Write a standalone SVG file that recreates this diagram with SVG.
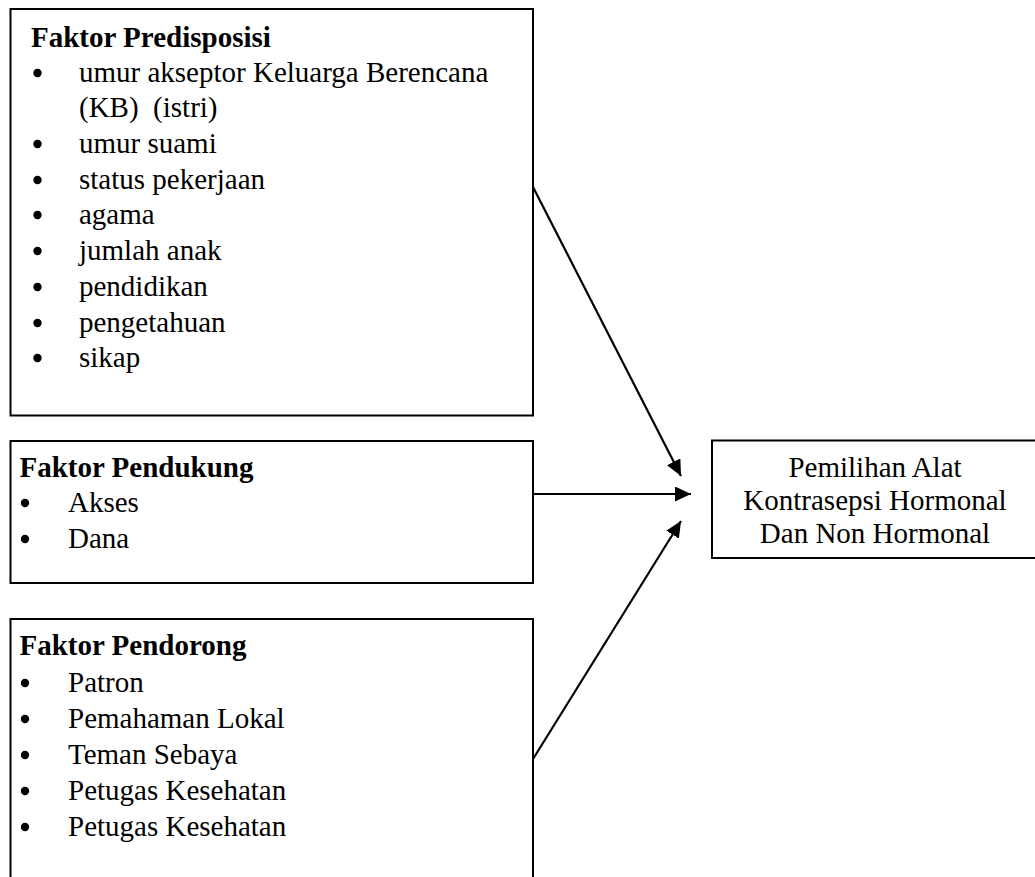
<svg xmlns="http://www.w3.org/2000/svg" width="1035" height="877" viewBox="0 0 1035 877">
<style>
.box{fill:#fff;stroke:#000;stroke-width:2}
.t{font-family:"Liberation Serif",Tinos,"Times New Roman",Times,"DejaVu Serif",serif;font-size:29px;font-weight:normal;font-style:normal;fill:#000}
.b{font-weight:bold}
.c{text-anchor:middle}
.conn{stroke:#000;stroke-width:2.2;fill:none;marker-end:url(#ah)}
</style>
<defs>
<marker id="ah" markerUnits="userSpaceOnUse" markerWidth="17" markerHeight="15" refX="16" refY="7.5" orient="auto">
<path d="M0,0 L16,7.5 L0,15 z" fill="#000"/>
</marker>
</defs>
<rect width="1035" height="877" fill="#fff"/>
<g id="predisposisi">
<rect class="box" x="10.5" y="9" width="522.5" height="406.5"/>
<text class="t b" x="31" y="47">Faktor Predisposisi</text>
<g fill="#000">
<circle cx="37.5" cy="73" r="4.2"/><circle cx="37.5" cy="144" r="4.2"/><circle cx="37.5" cy="180" r="4.2"/><circle cx="37.5" cy="215" r="4.2"/><circle cx="37.5" cy="251" r="4.2"/><circle cx="37.5" cy="287" r="4.2"/><circle cx="37.5" cy="323" r="4.2"/><circle cx="37.5" cy="358" r="4.2"/>
</g>
<text class="t" x="79" y="82">umur akseptor Keluarga Berencana</text>
<text class="t" x="79" y="117" xml:space="preserve">(KB)  (istri)</text>
<text class="t" x="79" y="153">umur suami</text>
<text class="t" x="79" y="189">status pekerjaan</text>
<text class="t" x="79" y="224">agama</text>
<text class="t" x="79" y="260">jumlah anak</text>
<text class="t" x="79" y="296">pendidikan</text>
<text class="t" x="79" y="332">pengetahuan</text>
<text class="t" x="79" y="367">sikap</text>
</g>
<g id="pendukung">
<rect class="box" x="10.5" y="441" width="522.5" height="142"/>
<text class="t b" x="19.5" y="477">Faktor Pendukung</text>
<g fill="#000"><circle cx="25" cy="503" r="4.2"/><circle cx="25" cy="539" r="4.2"/></g>
<text class="t" x="68" y="512">Akses</text>
<text class="t" x="68" y="548">Dana</text>
</g>
<g id="pendorong">
<path class="box" d="M10.5,880 V619 H533 V880"/>
<text class="t b" x="19.5" y="655">Faktor Pendorong</text>
<g fill="#000"><circle cx="25" cy="683" r="4.2"/><circle cx="25" cy="719" r="4.2"/><circle cx="25" cy="755" r="4.2"/><circle cx="25" cy="791" r="4.2"/><circle cx="25" cy="827" r="4.2"/></g>
<text class="t" x="68" y="692">Patron</text>
<text class="t" x="68" y="728">Pemahaman Lokal</text>
<text class="t" x="68" y="764">Teman Sebaya</text>
<text class="t" x="68" y="800">Petugas Kesehatan</text>
<text class="t" x="68" y="836">Petugas Kesehatan</text>
</g>
<g id="pemilihan">
<rect class="box" x="712" y="440.5" width="324" height="117.5"/>
<text class="t c" x="875" y="477">Pemilihan Alat</text>
<text class="t c" x="875" y="510">Kontrasepsi Hormonal</text>
<text class="t c" x="875" y="543">Dan Non Hormonal</text>
</g>
<g id="connectors">
<line class="conn" x1="533" y1="187" x2="681" y2="476"/>
<line class="conn" x1="533" y1="494" x2="691" y2="494"/>
<line class="conn" x1="533" y1="759" x2="681" y2="521"/>
</g>
</svg>
